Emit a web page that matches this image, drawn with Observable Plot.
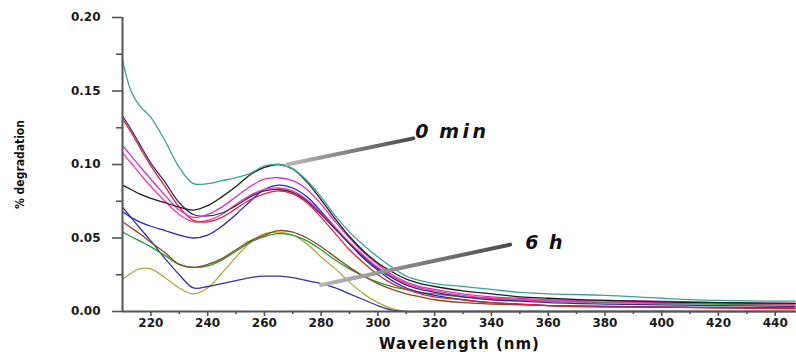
<!DOCTYPE html>
<html><head><meta charset="utf-8">
<script src="https://cdn.jsdelivr.net/npm/d3@7"></script>
<script src="https://cdn.jsdelivr.net/npm/@observablehq/plot@0.6"></script>
<style>body{margin:0;background:#fff}</style>
</head><body><div id="chart"></div>
<script>
// Wavelength grid (nm) shared by all spectra
const wavelengths = [210,213,216,220,225,230,235,240,245,250,255,260,265,270,275,280,285,290,295,300,305,310,315,320,330,340,350,360,380,400,420,447];

// Spectra (% degradation), one array per curve
const khaki  = [0.022,0.026,0.029,0.029,0.023,0.016,0.012,0.016,0.026,0.037,0.047,0.053,0.054,0.052,0.046,0.037,0.029,0.020,0.012,0.006,0.002,0.000,0,0,0,0,0,0,0,0,0,0];
const sixH   = [0.071,0.064,0.057,0.048,0.036,0.025,0.016,0.017,0.019,0.021,0.023,0.024,0.024,0.023,0.021,0.019,0.016,0.012,0.008,0.004,0.001,0.000,0,0,0,0,0,0,0,0,0,0];
const green  = [0.054,0.051,0.048,0.044,0.038,0.032,0.030,0.031,0.035,0.041,0.047,0.051,0.053,0.052,0.048,0.042,0.035,0.029,0.024,0.020,0.017,0.015,0.013,0.012,0.010,0.009,0.008,0.007,0.006,0.0055,0.005,0.0045];
const brown  = [0.061,0.057,0.053,0.047,0.040,0.032,0.030,0.032,0.036,0.042,0.048,0.052,0.055,0.054,0.050,0.044,0.037,0.030,0.024,0.019,0.015,0.012,0.010,0.008,0.006,0.005,0.0045,0.004,0.0035,0.003,0.0025,0.002];
const blue   = [0.068,0.064,0.061,0.058,0.055,0.052,0.050,0.052,0.058,0.066,0.075,0.083,0.086,0.084,0.078,0.068,0.057,0.046,0.036,0.028,0.021,0.016,0.013,0.011,0.008,0.006,0.005,0.004,0.0035,0.003,0.0028,0.0025];
const pink   = [0.108,0.101,0.094,0.085,0.075,0.066,0.061,0.062,0.066,0.073,0.079,0.083,0.084,0.082,0.076,0.067,0.057,0.047,0.038,0.030,0.024,0.019,0.016,0.014,0.011,0.009,0.008,0.007,0.0065,0.006,0.0055,0.005];
const red    = [0.131,0.122,0.112,0.099,0.085,0.071,0.062,0.061,0.064,0.070,0.076,0.080,0.082,0.080,0.074,0.064,0.053,0.042,0.033,0.025,0.019,0.015,0.012,0.010,0.008,0.006,0.005,0.004,0.003,0.003,0.0025,0.002];
const navy   = [0.133,0.124,0.114,0.101,0.088,0.074,0.066,0.065,0.067,0.072,0.078,0.082,0.083,0.081,0.075,0.066,0.056,0.046,0.037,0.029,0.023,0.018,0.015,0.013,0.010,0.008,0.007,0.006,0.005,0.0045,0.004,0.0035];
const magenta= [0.113,0.106,0.099,0.090,0.079,0.069,0.064,0.066,0.071,0.078,0.085,0.090,0.091,0.089,0.083,0.073,0.061,0.050,0.040,0.032,0.025,0.020,0.017,0.015,0.012,0.010,0.009,0.008,0.0075,0.007,0.006,0.0055];
const black  = [0.086,0.083,0.080,0.077,0.074,0.071,0.069,0.072,0.078,0.085,0.093,0.098,0.100,0.097,0.088,0.076,0.063,0.051,0.041,0.033,0.027,0.022,0.019,0.017,0.014,0.012,0.010,0.009,0.0075,0.0065,0.006,0.0055];
const teal   = [0.171,0.150,0.140,0.132,0.116,0.098,0.087,0.087,0.089,0.091,0.094,0.099,0.100,0.097,0.089,0.078,0.065,0.054,0.045,0.037,0.030,0.024,0.021,0.019,0.017,0.015,0.013,0.012,0.011,0.009,0.0075,0.007];

const seriesNames  = ["khaki","6 h","green","brown","blue","pink","red","navy","magenta","black","0 min"];
const seriesValues = [khaki, sixH, green, brown, blue, pink, red, navy, magenta, black, teal];
const seriesColors = ["#b5a640","#34349e","#239a3c","#8a4a1c","#2424cc","#f23a9c","#e6202a","#3b2a7e","#dd2ec8","#1e1e1e","#35a59a"];

// Axis ticks
const xTicks = [220,240,260,280,300,320,340,360,380,400,420,440];
const xMinorTicks = [230,250,270,290,310,330,350,370,390,410,430];
const yTicks = [0,0.05,0.10,0.15,0.20];
const yMinorTicks = [0.025,0.075,0.125,0.175];

// Annotations
const annotationLabels = ["0 min","6 h"];
const annotationX = [313.2, 351.9];
const annotationY = [0.122, 0.047];
const pointerX1 = [268, 280];
const pointerY1 = [0.100, 0.018];
const pointerX2 = [312.5, 346.6];
const pointerY2 = [0.1178, 0.0455];

const rows = seriesNames.flatMap((s, i) => wavelengths.map((w, j) => ({series: s, wl: w, v: seriesValues[i][j]})));
const annots = annotationLabels.map((t, i) => ({t, x: annotationX[i], y: annotationY[i], x1: pointerX1[i], y1: pointerY1[i], x2: pointerX2[i], y2: pointerY2[i]}));

const chart = Plot.plot({
  width: 796, height: 352,
  marginLeft: 122, marginRight: 0, marginTop: 17, marginBottom: 41,
  x: {domain: [210, 447.5]},
  y: {domain: [0, 0.2]},
  color: {domain: seriesNames, range: seriesColors},
  style: {fontFamily: "DejaVu Sans", fontWeight: "bold", fontSize: "12px", color: "#1a1a1a", background: "#fff"},
  marks: [
    Plot.axisY(yTicks, {tickSize: 10, tickPadding: 12, tickFormat: d3.format(".2f"), label: null, stroke: "#555", strokeWidth: 1.6, fontSize: 12}),
    Plot.axisY(yMinorTicks, {tickSize: 6, tickFormat: () => "", label: null, stroke: "#555", strokeWidth: 1.6}),
    Plot.axisX(xTicks, {tickSize: 5, tickPadding: 2, tickFormat: d3.format("d"), label: null, stroke: "#555", strokeWidth: 1.6, fontSize: 12}),
    Plot.axisX(xMinorTicks, {tickSize: 3, tickFormat: () => "", label: null, stroke: "#555", strokeWidth: 1.6}),
    Plot.line(rows, {x: "wl", y: "v", z: "series", stroke: "series", strokeWidth: 1.3, curve: "catmull-rom"}),
    Plot.ruleX([210], {stroke: "#555", strokeWidth: 2}),
    Plot.ruleY([0], {stroke: "#555", strokeWidth: 2}),
    Plot.link(annots, {x1: "x1", y1: "y1", x2: "x2", y2: "y2", stroke: "url(#ptrGrad)", strokeWidth: 4, strokeLinecap: "round"}),
    Plot.text(annots, {x: "x", y: "y", text: "t", textAnchor: "start", lineAnchor: "middle", fontSize: 19, fontStyle: "italic", fontWeight: "bold", fill: "#111", className: "annot"}),
    Plot.text(["% degradation"], {frameAnchor: "left", dx: -102, rotate: -90, fontSize: 12, textAnchor: "middle", lineAnchor: "middle", fontFamily: "DejaVu Sans Condensed", fill: "#111"}),
    Plot.text(["Wavelength (nm)"], {frameAnchor: "bottom", dy: 33, fontSize: 15, textAnchor: "middle", lineAnchor: "middle", fill: "#111", className: "xtitle"})
  ]
});

const defs = d3.select(chart).insert("defs", ":first-child");
const g = defs.append("linearGradient").attr("id", "ptrGrad").attr("x1", "0%").attr("y1", "0%").attr("x2", "100%").attr("y2", "0%");
g.append("stop").attr("offset", "0%").attr("stop-color", "#b8b8b8");
g.append("stop").attr("offset", "100%").attr("stop-color", "#4a4a4a");
d3.select(chart).selectAll("g.annot text").style("letter-spacing", "3.5px").style("word-spacing", "-3px");
d3.select(chart).selectAll("g.xtitle text").style("letter-spacing", "1px");

document.getElementById("chart").appendChild(chart);
</script></body></html>
